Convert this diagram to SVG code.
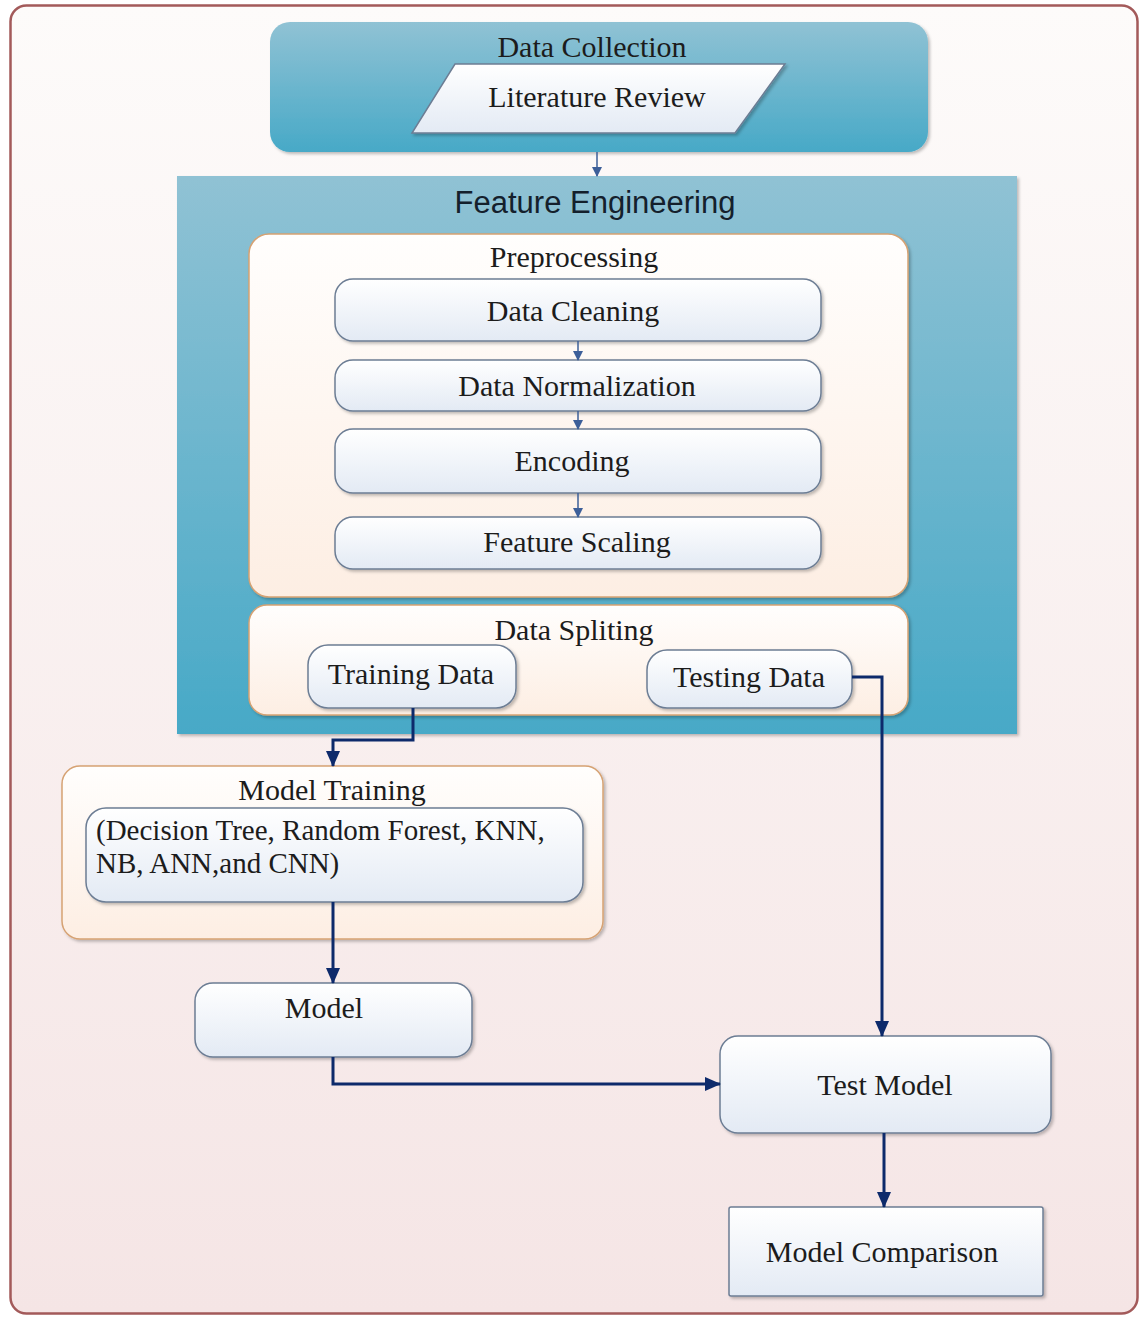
<svg xmlns="http://www.w3.org/2000/svg" width="1143" height="1318" viewBox="0 0 1143 1318">
<defs>
<linearGradient id="gFrame" x1="0" y1="0" x2="0" y2="1"><stop offset="0" stop-color="#fdfbfa"/><stop offset="1" stop-color="#f5e5e5"/></linearGradient>
<linearGradient id="gTeal" x1="0" y1="0" x2="0" y2="1"><stop offset="0" stop-color="#90c2d4"/><stop offset="1" stop-color="#47a9c7"/></linearGradient>
<linearGradient id="gPeach" x1="0" y1="0" x2="0" y2="1"><stop offset="0" stop-color="#fffefd"/><stop offset="1" stop-color="#fdeee3"/></linearGradient>
<linearGradient id="gBox" x1="0" y1="0" x2="0" y2="1"><stop offset="0" stop-color="#ffffff"/><stop offset="1" stop-color="#e3eaf4"/></linearGradient>
<filter id="sh" x="-10%" y="-10%" width="130%" height="130%"><feDropShadow dx="2" dy="2" stdDeviation="1.5" flood-color="#000" flood-opacity="0.25"/></filter>
<marker id="aThin" markerUnits="userSpaceOnUse" markerWidth="10" markerHeight="10" refX="9" refY="5" orient="auto"><path d="M0,0 L10,5 L0,10 z" fill="#3d5f99"/></marker>
<marker id="aThick" markerUnits="userSpaceOnUse" markerWidth="16" markerHeight="14" refX="15" refY="7" orient="auto"><path d="M0,0 L16,7 L0,14 z" fill="#0d2a6b"/></marker>
</defs>
<style>
.serif{font-family:"Liberation Serif","Times New Roman",serif;font-size:30px;fill:#1c1c1c;text-anchor:middle}
.sans{font-family:"Liberation Sans",Arial,sans-serif;font-size:31px;fill:#14202c;text-anchor:middle}
.teal{fill:url(#gTeal)}
.peach{fill:url(#gPeach);stroke:#d6a273;stroke-width:1.5}
.box{fill:url(#gBox);stroke:#6c7d94;stroke-width:1.5;filter:url(#sh)}
.thin{fill:none;stroke:#3d5f99;stroke-width:1.5}
.thick{fill:none;stroke:#0d2a6b;stroke-width:3}
</style>
<rect x="0" y="0" width="1143" height="1318" fill="#ffffff"/>
<g id="frame"><rect x="10.5" y="5.5" width="1127" height="1308" rx="16" fill="url(#gFrame)" stroke="#a35a5a" stroke-width="2.5"/></g>

<g id="data-collection">
<rect x="270" y="22" width="658" height="130" rx="20" class="teal" filter="url(#sh)"/>
<text x="592" y="57" class="serif">Data Collection</text>
</g>
<g id="literature-review">
<polygon points="455,64 785,64 735,133 412,133" class="box"/>
<text x="597" y="107" class="serif">Literature Review</text>
</g>

<g id="feature-engineering">
<rect x="177" y="176" width="840" height="558" class="teal" filter="url(#sh)"/>
<text x="595" y="213" class="sans">Feature Engineering</text>
</g>

<g id="preprocessing">
<rect x="249" y="234" width="659" height="363" rx="20" class="peach" filter="url(#sh)"/>
<text x="574" y="267" class="serif">Preprocessing</text>
</g>
<g id="data-cleaning">
<rect x="335" y="279" width="486" height="62" rx="18" class="box"/>
<text x="573" y="321" class="serif">Data Cleaning</text>
</g>
<g id="data-normalization">
<rect x="335" y="360" width="486" height="51" rx="18" class="box"/>
<text x="577" y="396" class="serif">Data Normalization</text>
</g>
<g id="encoding">
<rect x="335" y="429" width="486" height="64" rx="18" class="box"/>
<text x="572" y="471" class="serif">Encoding</text>
</g>
<g id="feature-scaling">
<rect x="335" y="517" width="486" height="52" rx="18" class="box"/>
<text x="577" y="552" class="serif">Feature Scaling</text>
</g>

<g id="data-spliting">
<rect x="249" y="605" width="659" height="110" rx="18" class="peach" filter="url(#sh)"/>
<text x="574" y="640" class="serif">Data Spliting</text>
</g>
<g id="training-data">
<rect x="308" y="645" width="208" height="63" rx="20" class="box"/>
<text x="411" y="684" class="serif">Training Data</text>
</g>
<g id="testing-data">
<rect x="647" y="650" width="205" height="58" rx="20" class="box"/>
<text x="749" y="687" class="serif">Testing Data</text>
</g>

<g id="model-training">
<rect x="62" y="766" width="541" height="173" rx="18" class="peach" filter="url(#sh)"/>
<text x="332" y="800" class="serif">Model Training</text>
</g>
<g id="algorithms">
<rect x="86" y="808" width="497" height="94" rx="20" class="box"/>
<text x="96" y="840" class="serif" style="text-anchor:start;font-size:29px">(Decision Tree, Random Forest, KNN,</text>
<text x="96" y="873" class="serif" style="text-anchor:start;font-size:29px">NB, ANN,and CNN)</text>
</g>
<g id="model">
<rect x="195" y="983" width="277" height="74" rx="18" class="box"/>
<text x="324" y="1018" class="serif">Model</text>
</g>
<g id="test-model">
<rect x="720" y="1036" width="331" height="97" rx="18" class="box"/>
<text x="885" y="1095" class="serif">Test Model</text>
</g>
<g id="model-comparison">
<rect x="729" y="1207" width="314" height="89" rx="2" class="box"/>
<text x="882" y="1262" class="serif">Model Comparison</text>
</g>

<g id="connectors">
<path d="M597,152 V176" class="thin" marker-end="url(#aThin)"/>
<path d="M578,341 V360" class="thin" marker-end="url(#aThin)"/>
<path d="M578,411 V429" class="thin" marker-end="url(#aThin)"/>
<path d="M578,493 V517" class="thin" marker-end="url(#aThin)"/>
<path d="M413,708 V740 H333 V766" class="thick" marker-end="url(#aThick)"/>
<path d="M852,677 H882 V1036" class="thick" marker-end="url(#aThick)"/>
<path d="M333,902 V983" class="thick" marker-end="url(#aThick)"/>
<path d="M333,1057 V1084 H720" class="thick" marker-end="url(#aThick)"/>
<path d="M884,1133 V1207" class="thick" marker-end="url(#aThick)"/>
</g>
</svg>
